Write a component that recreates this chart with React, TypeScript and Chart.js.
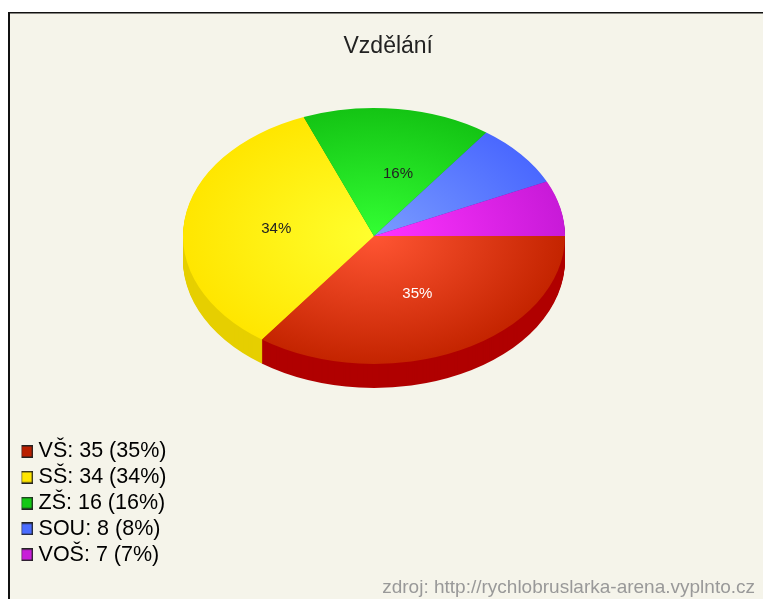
import React, { useEffect, useRef } from "react";
import { Chart, registerables } from "chart.js";

Chart.register(...registerables);

const categories = ["VŠ", "SŠ", "ZŠ", "SOU", "VOŠ"];
const values = [35, 34, 16, 8, 7];
const titleText = "Vzdělání";
const sourceText = "zdroj: http://rychlobruslarka-arena.vyplnto.cz";
const legendColors = ["#b91f00", "#ffe600", "#14c814", "#4a6cff", "#c81ed8"];
const innerColors = ["#ff5533", "#ffff2e", "#33ff33", "#7a9cff", "#ff33ff"];
const outerColors = ["#c42400", "#ffe600", "#14c414", "#4a68ff", "#c81ad8"];
const sideColors = ["#b00000", "#e6cf00", "#0e8e0e", "#2c44b0", "#8e1298"];
const percentColors = ["#ffffff", "#222222", "#222222", "#222222", "#222222"];

const FONT = "'Liberation Sans', Arial, sans-serif";
const CX = 374;
const CY = 236;
const RX = 191;
const TILT = 128 / 191;
const DEPTH = 24;
const LABEL_NUDGE_X = [0, -3, 12, 0, 0];
const BOX = 13;

const total = values.reduce((a, b) => a + b, 0);

const makeSwatch = (color: string) => {
  const c = document.createElement("canvas");
  c.width = BOX;
  c.height = BOX;
  const g = c.getContext("2d") as CanvasRenderingContext2D;
  g.fillStyle = "#222222";
  g.fillRect(0, 0, BOX, BOX);
  g.fillStyle = color;
  g.fillRect(1.5, 1.5, BOX - 3, BOX - 3);
  return c;
};

const applyTilt = (chart: any, ctx: CanvasRenderingContext2D, down: number) => {
  const { left, right, top, bottom } = chart.chartArea;
  ctx.translate(CX, CY + down);
  ctx.scale(1, TILT);
  ctx.translate(-(left + right) / 2, -(top + bottom) / 2);
};

const framePlugin = {
  id: "frame",
  beforeDraw(chart: any) {
    const { ctx, width, height } = chart;
    ctx.save();
    ctx.fillStyle = "#ffffff";
    ctx.fillRect(0, 0, width, height);
    ctx.fillStyle = "#111111";
    ctx.fillRect(8, 12, width - 8, height - 12);
    ctx.fillStyle = "#f5f4ea";
    ctx.fillRect(10, 13.5, width - 10, height - 13.5);
    ctx.restore();
  },
};

const tiltPlugin = {
  id: "tilt",
  beforeDatasetsDraw(chart: any) {
    const { ctx } = chart;
    const arcs = chart.getDatasetMeta(0).data;
    for (let d = DEPTH; d > 0; d--) {
      ctx.save();
      applyTilt(chart, ctx, d);
      arcs.forEach((arc: any, i: number) => {
        const orig = arc.options;
        arc.options = Object.assign(Object.create(orig), {
          backgroundColor: sideColors[i],
          borderWidth: 0,
        });
        arc.draw(ctx);
        arc.options = orig;
      });
      ctx.restore();
    }
    ctx.save();
    applyTilt(chart, ctx, 0);
  },
  afterDatasetsDraw(chart: any) {
    const { ctx } = chart;
    ctx.restore();
    const arcs = chart.getDatasetMeta(0).data;
    ctx.save();
    ctx.font = `15px ${FONT}`;
    ctx.textAlign = "center";
    ctx.textBaseline = "middle";
    arcs.forEach((arc: any, i: number) => {
      if (values[i] < 10) return;
      const p = arc.getCenterPoint();
      const { left, right, top, bottom } = chart.chartArea;
      const x = CX + (p.x - (left + right) / 2) + LABEL_NUDGE_X[i];
      const y = CY + (p.y - (top + bottom) / 2) * TILT + 1;
      ctx.fillStyle = percentColors[i];
      ctx.fillText(`${Math.round((values[i] / total) * 100)}%`, x, y);
    });
    ctx.restore();
  },
};

export default function App() {
  const ref = useRef<HTMLCanvasElement | null>(null);
  useEffect(() => {
    const swatches = legendColors.map(makeSwatch);
    const chart = new Chart(ref.current as HTMLCanvasElement, {
      type: "pie",
      plugins: [framePlugin, tiltPlugin],
      data: {
        labels: categories,
        datasets: [
          {
            data: values,
            radius: RX,
            clip: false,
            borderWidth: 0,
            backgroundColor: (c: any) => {
              const area = c.chart.chartArea;
              if (!area || c.dataIndex === undefined) return legendColors[c.dataIndex ?? 0];
              const x = (area.left + area.right) / 2;
              const y = (area.top + area.bottom) / 2;
              const g = c.chart.ctx.createRadialGradient(x, y, 0, x, y, RX);
              g.addColorStop(0, innerColors[c.dataIndex]);
              g.addColorStop(1, outerColors[c.dataIndex]);
              return g;
            },
          },
        ],
      } as any,
      options: {
        responsive: false,
        animation: false,
        rotation: 90,
        layout: { padding: { left: 21.5, right: 8, top: 0, bottom: 0 } },
        plugins: {
          title: {
            display: true,
            text: titleText,
            color: "#222222",
            font: { family: FONT, size: 23, weight: "normal" },
            padding: { top: 33, bottom: 10 },
          },
          subtitle: {
            display: true,
            text: sourceText,
            position: "bottom",
            align: "end",
            color: "#999999",
            font: { family: FONT, size: 19, weight: "normal" },
            padding: { top: 6.5, bottom: 0 },
          },
          tooltip: { enabled: false },
          legend: {
            position: "left",
            align: "end",
            fullSize: false,
            labels: {
              usePointStyle: true,
              pointStyleWidth: 2,
              boxHeight: BOX,
              padding: 4.3,
              color: "#333333",
              font: { family: FONT, size: 21.5 },
              generateLabels: () =>
                categories.map((name, i) => ({
                  text: `${name}: ${values[i]} (${Math.round((values[i] / total) * 100)}%)`,
                  fillStyle: legendColors[i],
                  strokeStyle: "#222222",
                  pointStyle: swatches[i],
                  lineWidth: 1,
                  hidden: false,
                  index: i,
                })),
            },
          },
        },
      } as any,
    });
    return () => chart.destroy();
  }, []);
  return (
    <canvas
      ref={ref}
      width={763}
      height={599}
      style={{ position: "absolute", left: 0, top: 0, display: "block" }}
    />
  );
}
